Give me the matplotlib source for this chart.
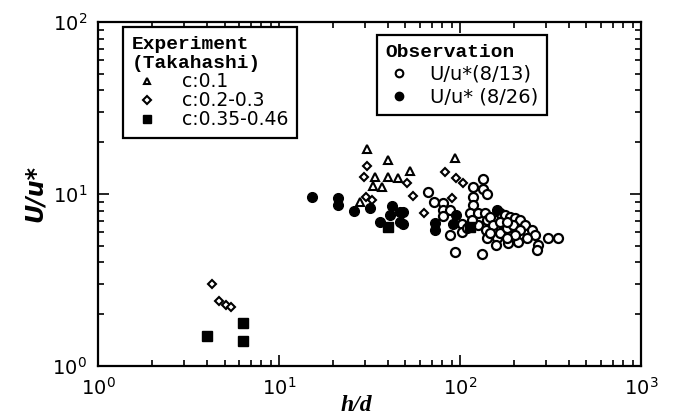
import matplotlib
matplotlib.use('Agg')
import matplotlib.pyplot as plt
from matplotlib.lines import Line2D

plt.rcParams['font.family'] = 'DejaVu Sans'
plt.rcParams['mathtext.fontset'] = 'dejavusans'

# Experiment (Takahashi)
c01_x = [30.6, 40.0, 33.9, 33.1, 37.1, 40.0, 45.4, 52.9, 28.0, 93.9]
c01_y = [18.3, 15.8, 12.6, 11.1, 11.0, 12.6, 12.4, 13.6, 9.0, 16.2]

c023_x = [4.26, 4.66, 5.1, 5.4, 30.6, 29.5, 51.0, 55.0, 30.3, 32.8, 82.6, 95.0, 104, 90.3, 63.2]
c023_y = [3.0, 2.39, 2.25, 2.2, 14.5, 12.6, 11.6, 9.73, 9.6, 9.2, 13.4, 12.4, 11.6, 9.48, 7.76]

c035_x = [4.0, 6.33, 6.33, 40.0, 113.0]
c035_y = [1.49, 1.78, 1.40, 6.45, 6.4]

# Observation
obs13_x = [66.5, 134, 118, 134, 141, 118, 71.8, 80.5, 80.5, 88.1, 80.5, 102.6, 118, 113.5,
           125.7, 137.5, 125.7, 141, 146.5, 88.1, 102.6, 139.2, 141, 160, 158, 166, 177, 189,
           201, 214, 229, 250, 260, 270, 266, 306, 348, 184, 209, 234, 166, 182, 196, 214,
           201, 182, 152, 166, 182, 93.8, 132, 116.5, 109, 146.5]
obs13_y = [10.3, 12.2, 11.0, 10.7, 10.0, 9.6, 9.0, 8.87, 8.07, 8.07, 7.45, 6.69, 8.63, 7.76,
           7.76, 7.76, 6.61, 7.06, 7.35, 5.78, 6.01, 6.18, 5.55, 5.55, 5.05, 7.76, 7.55, 7.35,
           7.25, 7.06, 6.61, 6.18, 5.78, 5.05, 4.73, 5.55, 5.55, 5.19, 5.26, 5.55, 5.93, 6.35,
           6.61, 6.18, 5.78, 5.55, 6.61, 6.88, 6.88, 4.60, 4.48, 7.06, 6.35, 5.93]

obs26_x = [15.2, 21.2, 21.2, 26.0, 31.8, 36.1, 42.1, 46.6, 41.0, 46.6, 48.4, 48.4, 72.8, 72.8,
           95.1, 91.5, 160]
obs26_y = [9.61, 9.48, 8.63, 7.96, 8.29, 6.88, 8.52, 7.86, 7.55, 6.88, 7.86, 6.69, 6.78, 6.18,
           7.55, 6.69, 8.07]

fig = plt.figure(figsize=(6.84, 4.19), dpi=100)
ax = fig.add_axes([0.1433, 0.1265, 0.7937, 0.821])

ax.plot(obs13_x, obs13_y, 'o', ms=6.5, mfc='white', mec='black', mew=1.6, ls='none')
ax.plot(obs26_x, obs26_y, 'o', ms=7, mfc='black', mec='black', ls='none')
ax.plot(c023_x, c023_y, 'D', ms=4.5, mfc='white', mec='black', mew=1.5, ls='none')
ax.plot(c01_x, c01_y, '^', ms=5.5, mfc='white', mec='black', mew=1.5, ls='none')
ax.plot(c035_x, c035_y, 's', ms=6.5, mfc='black', mec='black', ls='none')

ax.set_xscale('log')
ax.set_yscale('log')
ax.set_xlim(1, 1000)
ax.set_ylim(1, 100)

ax.tick_params(which='both', direction='in', top=True, right=True, labelsize=14, width=1.2)
ax.tick_params(which='major', length=8, pad=8)
ax.tick_params(which='minor', length=4)
for s in ax.spines.values():
    s.set_linewidth(1.6)

ax.set_xlabel('h/d', family='Liberation Serif', fontsize=17, fontweight='bold',
              style='italic')
ax.xaxis.set_label_coords(0.475, -0.085)
ax.set_ylabel('U/u*', fontsize=17, fontweight='bold', style='italic', labelpad=4)

ttl_font = {'family': 'Liberation Mono', 'size': 14, 'weight': 'bold'}

h1 = [Line2D([], [], marker='^', ms=5, mfc='white', mec='black', mew=1.5, ls='none'),
      Line2D([], [], marker='D', ms=4.5, mfc='white', mec='black', mew=1.5, ls='none'),
      Line2D([], [], marker='s', ms=6, mfc='black', mec='black', ls='none')]
leg1 = ax.legend(h1, ['c:0.1', 'c:0.2-0.3', 'c:0.35-0.46'], title='Experiment\n(Takahashi)',
                 loc='upper left', bbox_to_anchor=(0.046, 0.985),
                 prop={'family': 'DejaVu Sans', 'size': 13.5},
                 title_fontproperties=ttl_font, alignment='left', fancybox=False,
                 edgecolor='black', framealpha=1, handlelength=1.7, handletextpad=1.0,
                 labelspacing=0.0, borderpad=0.45, borderaxespad=0)
leg1.get_frame().set_linewidth(1.6)
ax.add_artist(leg1)

h2 = [Line2D([], [], marker='o', ms=5.5, mfc='white', mec='black', mew=1.5, ls='none'),
      Line2D([], [], marker='o', ms=6, mfc='black', mec='black', ls='none')]
leg2 = ax.legend(h2, ['U/u*(8/13)', 'U/u* (8/26)'], title='Observation',
                 loc='upper left', bbox_to_anchor=(0.514, 0.962),
                 prop={'family': 'DejaVu Sans', 'size': 14},
                 title_fontproperties=ttl_font, alignment='left', fancybox=False,
                 edgecolor='black', framealpha=1, handlelength=1.4, handletextpad=0.85,
                 labelspacing=0.2, borderpad=0.45, borderaxespad=0)
leg2.get_frame().set_linewidth(1.6)

fig.savefig('out.png', dpi=100)
